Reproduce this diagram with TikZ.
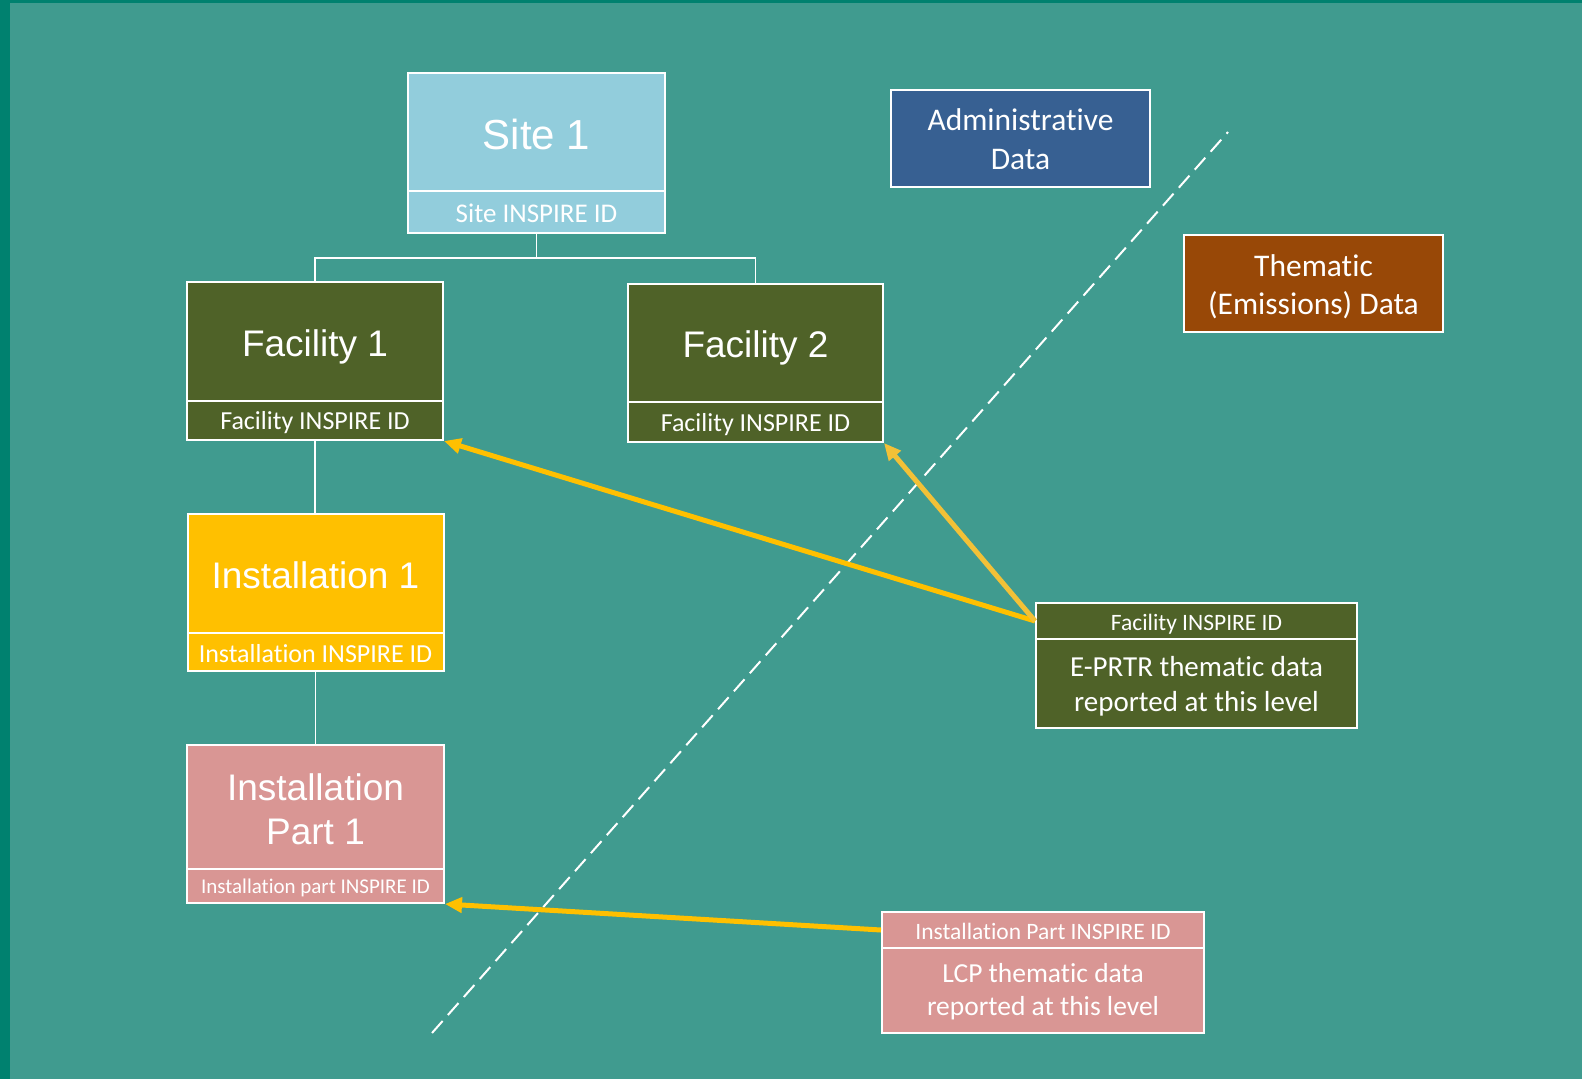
\documentclass[tikz,border=0pt]{standalone}
\usepackage{fontspec}
\setmainfont{Liberation Sans}
\newfontfamily\arialf{Liberation Sans}
\newfontfamily\calf[RawFeature=-liga]{Carlito}
\usetikzlibrary{arrows.meta}
\definecolor{edgeC}{HTML}{00816F}
\definecolor{bgC}{HTML}{409B8F}
\definecolor{siteC}{HTML}{92CDDC}
\definecolor{facC}{HTML}{4F6228}
\definecolor{instC}{HTML}{FFC000}
\definecolor{partC}{HTML}{D99694}
\definecolor{adminC}{HTML}{376092}
\definecolor{themC}{HTML}{984807}
\definecolor{arrC}{HTML}{FFC000}
\definecolor{arrB}{HTML}{F2C137}
\newcommand\pushdn[2]{\raisebox{0pt}[\dimexpr\height+#1\relax][\depth]{#2}}
\newcommand\nti{t\kern0pt i}
\begin{document}
\begin{tikzpicture}[x=1pt,y=-1pt,
  box/.style={draw=white, line width=2pt, inner sep=0pt, text=white, align=center},
  titlebox/.style={box, font=\arialf\fontsize{37}{44}\selectfont},
  idbox/.style={box, font=\calf\fontsize{26}{30}\selectfont},
  link/.style={draw=white, line width=1.6pt},
  feed/.style={line width=5pt, draw=arrC, -{Triangle[length=17pt,width=15pt]}},
  divider/.style={draw=white, line width=2pt, dash pattern=on 16pt off 8pt}]
\useasboundingbox (0,0) rectangle (1582,1079);
\fill[edgeC] (0,0) rectangle (1582,1079);
\fill[bgC] (10,3) rectangle (1582,1079);

% Site
\node[titlebox, fill=siteC, minimum width=257pt, minimum height=118pt, font=\arialf\fontsize{42}{48}\selectfont] (site) at (536.5,132) {\pushdn{4pt}{Site 1}};
\node[idbox, fill=siteC, minimum width=257pt, minimum height=42pt, font=\calf\fontsize{27}{30}\selectfont] (siteid) at (536.5,212) {\pushdn{2pt}{Site INSPIRE ID}};

% Facility 1
\node[titlebox, fill=facC, minimum width=256pt, minimum height=119pt] (fac1) at (315,341.5) {\pushdn{10pt}{Facility 1}};
\node[idbox, fill=facC, minimum width=256pt, minimum height=39pt] (fac1id) at (315,420.5) {\pushdn{5pt}{Facility INSPIRE ID}};

% Facility 2
\node[titlebox, fill=facC, minimum width=255pt, minimum height=118pt] (fac2) at (755.5,343) {\pushdn{9pt}{Facility 2}};
\node[idbox, fill=facC, minimum width=255pt, minimum height=40pt] (fac2id) at (755.5,422) {\pushdn{5pt}{Facility INSPIRE ID}};

% Installation 1
\node[titlebox, fill=instC, minimum width=256pt, minimum height=119pt] (inst) at (315.5,573.5) {\pushdn{4pt}{Installation 1}};
\node[idbox, fill=instC, minimum width=256pt, minimum height=38pt] (instid) at (315.5,652) {\pushdn{4pt}{Installa\nti on INSPIRE ID}};

% Installation part 1
\node[titlebox, fill=partC, minimum width=257pt, minimum height=124pt] (part) at (315.5,807) {\pushdn{5pt}{Installation}\\Part 1};
\node[idbox, fill=partC, minimum width=257pt, minimum height=34pt, font=\calf\fontsize{21}{25}\selectfont] (partid) at (315.5,886) {\pushdn{4pt}{Installa\nti on part INSPIRE ID}};

% Legend boxes
\node[box, fill=adminC, minimum width=259pt, minimum height=97pt, font=\calf\fontsize{31.5}{38.5}\selectfont] (admin) at (1020.5,138.5) {\pushdn{1pt}{Administra\nti ve}\\Data};
\node[box, fill=themC, minimum width=259pt, minimum height=97pt, font=\calf\fontsize{31.5}{38.5}\selectfont] (them) at (1313.5,283.5) {\pushdn{6pt}{Thema\nti c}\\(Emissions) Data};

% E-PRTR box
\node[box, fill=facC, minimum width=321pt, minimum height=36pt, font=\calf\fontsize{23.5}{28}\selectfont] (eprh) at (1196.5,621) {\pushdn{6pt}{Facility INSPIRE ID}};
\node[box, fill=facC, minimum width=321pt, minimum height=89pt, font=\calf\fontsize{29}{35.5}\selectfont] (eprb) at (1196.5,683.5) {\pushdn{6pt}{E-PRTR thema\nti c data}\\reported at this level};

% LCP box
\node[box, fill=partC, minimum width=322pt, minimum height=36pt, font=\calf\fontsize{23.5}{28}\selectfont] (lcph) at (1043,930) {\pushdn{2pt}{Installa\nti on Part INSPIRE ID}};
\node[box, fill=partC, minimum width=322pt, minimum height=85pt, font=\calf\fontsize{27.5}{33.5}\selectfont] (lcpb) at (1043,990.5) {\pushdn{2pt}{LCP thema\nti c data}\\reported at this level};

% tree connectors
\coordinate (junc) at (536.5,258);
\draw[link] (siteid.south) -- (junc) -| (fac1.north);
\draw[link] (junc) -| (fac2.north);
\draw[link] (fac1id.south) -- (fac1id.south |- inst.north);
\draw[link] (instid.south) -- (instid.south |- part.north);

% dashed divider
\coordinate (dA) at (432,1033);
\coordinate (dB) at (1228,132);
\draw[divider] (dA) -- (dB);

% arrows
\draw[feed] (eprh.west) -- (fac1id.south east);
\draw[feed, draw=arrB] (eprh.west) -- (fac2id.south east);
\draw[feed] (lcph.west) -- (partid.south east);
\end{tikzpicture}
\end{document}
